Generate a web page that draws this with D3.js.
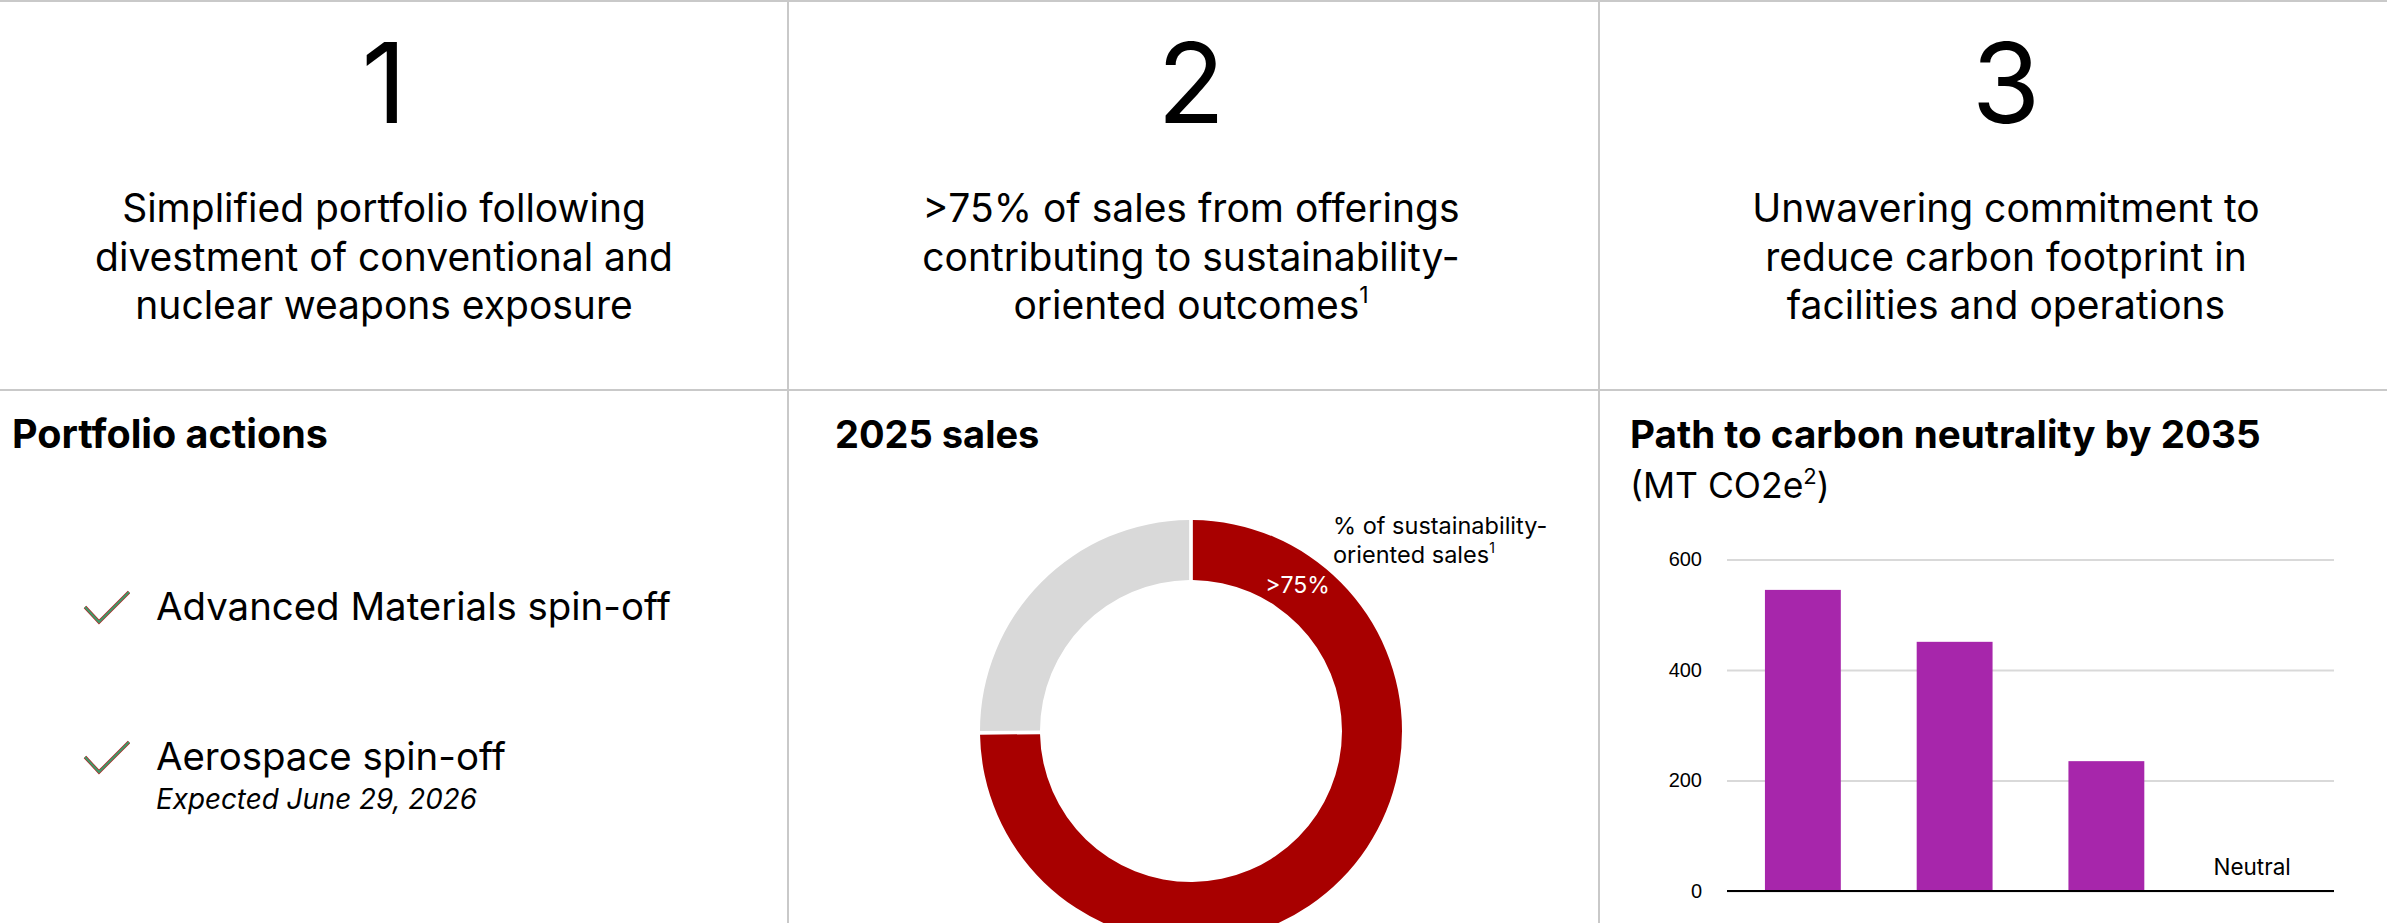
<!DOCTYPE html>
<html>
<head>
<meta charset="utf-8">
<script src="https://cdn.jsdelivr.net/npm/d3@7"></script>
<style>
  html, body { margin: 0; padding: 0; background: #ffffff; }
  svg { display: block; }
</style>
</head>
<body>
<svg id="slide" width="2387" height="923"></svg>
<script>
// ---- content ----
const pillarNumbers = ["1", "2", "3"];
const pillarLines = [
  ["Simplified portfolio following", "divestment of conventional and", "nuclear weapons exposure"],
  [">75% of sales from offerings", "contributing to sustainability-", "oriented outcomes"],
  ["Unwavering commitment to", "reduce carbon footprint in", "facilities and operations"]
];
const pillarFootnotes = ["", "1", ""];

const portfolioActions = ["Advanced Materials spin-off", "Aerospace spin-off"];
const portfolioNotes = ["", "Expected June 29, 2026"];

const salesSegments = ["Sustainability-oriented", "Other"];
const salesShares = [75, 25];
const salesColors = ["#a80000", "#d9d9d9"];
const salesLabel = ">75%";

const emissionSteps = ["step1", "step2", "step3", "target"];
const emissionValues = [545, 451, 235, 0];
const emissionTicks = [0, 200, 400, 600];
const emissionNotes = ["", "", "", "Neutral"];

// ---- layout ----
const W = 2387, H = 923;
const FONT = "Inter, 'Liberation Sans', Arial, sans-serif";
const AXIS_FONT = "'Liberation Sans', Arial, sans-serif";
const svg = d3.select("#slide");
svg.append("rect").attr("width", W).attr("height", H).attr("fill", "#fff");

const colSplits = [788, 1599];
const rowSplit = 390;
const ruleColor = "#c9c9c9";

// frame rules
svg.append("line").attr("x1", 0).attr("x2", W).attr("y1", 1).attr("y2", 1)
  .attr("stroke", ruleColor).attr("stroke-width", 2);
svg.append("line").attr("x1", 0).attr("x2", W).attr("y1", rowSplit).attr("y2", rowSplit)
  .attr("stroke", ruleColor).attr("stroke-width", 2);
colSplits.forEach(xs => {
  svg.append("line").attr("x1", xs).attr("x2", xs).attr("y1", 0).attr("y2", H)
    .attr("stroke", ruleColor).attr("stroke-width", 2);
});

// ---- top row: numbered pillars ----
const pillarCenters = [384, 1191, 2006];
const pillarGroup = svg.append("g").attr("font-family", FONT).attr("fill", "#000");
pillarNumbers.forEach((n, i) => {
  pillarGroup.append("text").attr("x", pillarCenters[i]).attr("y", 123)
    .attr("text-anchor", "middle").attr("font-size", 111).text(n);
  pillarLines[i].forEach((line, j) => {
    const t = pillarGroup.append("text").attr("x", pillarCenters[i]).attr("y", 222 + j * 48.5)
      .attr("text-anchor", "middle").attr("font-size", 39);
    t.append("tspan").text(line);
    if (j === pillarLines[i].length - 1 && pillarFootnotes[i]) {
      t.append("tspan").attr("font-size", 23).attr("dy", -16).text(pillarFootnotes[i]);
    }
  });
});

// ---- section headings ----
const headings = [
  { text: "Portfolio actions", x: 12, size: 39.5 },
  { text: "2025 sales", x: 835, size: 38 },
  { text: "Path to carbon neutrality by 2035", x: 1630, size: 38.6 }
];
headings.forEach(h => {
  svg.append("text").attr("x", h.x).attr("y", 448)
    .attr("font-family", FONT).attr("font-weight", 700).attr("font-size", h.size)
    .attr("fill", "#000").text(h.text);
});
const unitText = svg.append("text").attr("x", 1630).attr("y", 498)
  .attr("font-family", FONT).attr("font-size", 35.5).attr("fill", "#000");
unitText.append("tspan").text("(MT CO2e");
unitText.append("tspan").attr("font-size", 22).attr("dy", -14).text("2");
unitText.append("tspan").attr("dy", 14).text(")");

// ---- left panel: checklist ----
const listY = d3.scalePoint().domain(portfolioActions).range([620, 770]);
const check = d3.line();
portfolioActions.forEach((a, i) => {
  const ly = listY(a);
  const pts = [[85, ly - 13], [99, ly + 2], [129, ly - 28]];
  svg.append("path").attr("d", check(pts)).attr("fill", "none")
    .attr("stroke", "#b3262b").attr("stroke-width", 3.4).attr("stroke-linejoin", "miter");
  svg.append("path").attr("d", check(pts)).attr("fill", "none")
    .attr("stroke", "#3f9a68").attr("stroke-width", 2).attr("stroke-linejoin", "miter");
  svg.append("text").attr("x", 156).attr("y", ly)
    .attr("font-family", FONT).attr("font-size", 38.4).attr("fill", "#000").text(a);
  if (portfolioNotes[i]) {
    svg.append("text").attr("x", 156).attr("y", ly + 39)
      .attr("font-family", FONT).attr("font-style", "italic").attr("font-size", 27.8)
      .attr("fill", "#000").text(portfolioNotes[i]);
  }
});

// ---- middle panel: donut ----
const cx = 1191, cy = 731, rOuter = 211, rInner = 151;
const pie = d3.pie().sort(null).value(d => d).padAngle(3.7 / rOuter);
const arc = d3.arc().innerRadius(rInner).outerRadius(rOuter).padRadius(rOuter);
const donut = svg.append("g").attr("transform", `translate(${cx},${cy})`);
donut.selectAll("path").data(pie(salesShares)).join("path")
  .attr("d", arc).attr("fill", (d, i) => salesColors[i]);

// value label sits in the upper part of the main ring
const labelAngle = 0.63;
const labelPos = arc.centroid({ startAngle: 0, endAngle: 2 * labelAngle });
donut.append("text").attr("x", labelPos[0]).attr("y", labelPos[1])
  .attr("text-anchor", "middle").attr("dominant-baseline", "central")
  .attr("font-family", FONT).attr("font-size", 23).attr("fill", "#fff").text(salesLabel);

const callout = svg.append("g").attr("font-family", FONT).attr("font-size", 23.5).attr("fill", "#000");
callout.append("text").attr("x", 1333).attr("y", 534).text("% of sustainability-");
const c2 = callout.append("text").attr("x", 1333).attr("y", 563);
c2.append("tspan").text("oriented sales");
c2.append("tspan").attr("font-size", 14).attr("dy", -10).text("1");

// ---- right panel: emissions bars ----
const plotLeft = 1727, plotRight = 2334, plotTop = 559.5, plotBottom = 891;
const x = d3.scaleBand().domain(emissionSteps).range([plotLeft, plotRight])
  .paddingInner(0.5).paddingOuter(0.25);
const y = d3.scaleLinear().domain([0, 600]).range([plotBottom, plotTop]);

const yAxis = svg.append("g").attr("transform", `translate(${plotLeft},0)`)
  .call(d3.axisLeft(y).tickValues(emissionTicks).tickSize(-(plotRight - plotLeft)).tickPadding(25));
yAxis.select(".domain").remove();
yAxis.selectAll(".tick line").attr("stroke", "#d9d9d9").attr("stroke-width", 2);
yAxis.selectAll(".tick text").attr("font-family", AXIS_FONT).attr("font-size", 20).attr("fill", "#000");

svg.append("g").selectAll("rect").data(emissionValues).join("rect")
  .attr("x", (d, i) => x(emissionSteps[i]))
  .attr("width", x.bandwidth())
  .attr("y", d => y(d))
  .attr("height", d => y(0) - y(d))
  .attr("fill", "#a726ab");

svg.append("line").attr("x1", plotLeft).attr("x2", plotRight)
  .attr("y1", y(0)).attr("y2", y(0)).attr("stroke", "#000").attr("stroke-width", 2);

emissionNotes.forEach((n, i) => {
  if (!n) return;
  svg.append("text").attr("x", x(emissionSteps[i]) + x.bandwidth() / 2 - 6).attr("y", y(0) - 16)
    .attr("text-anchor", "middle").attr("font-family", FONT).attr("font-size", 22.5)
    .attr("fill", "#000").text(n);
});
</script>
</body>
</html>
